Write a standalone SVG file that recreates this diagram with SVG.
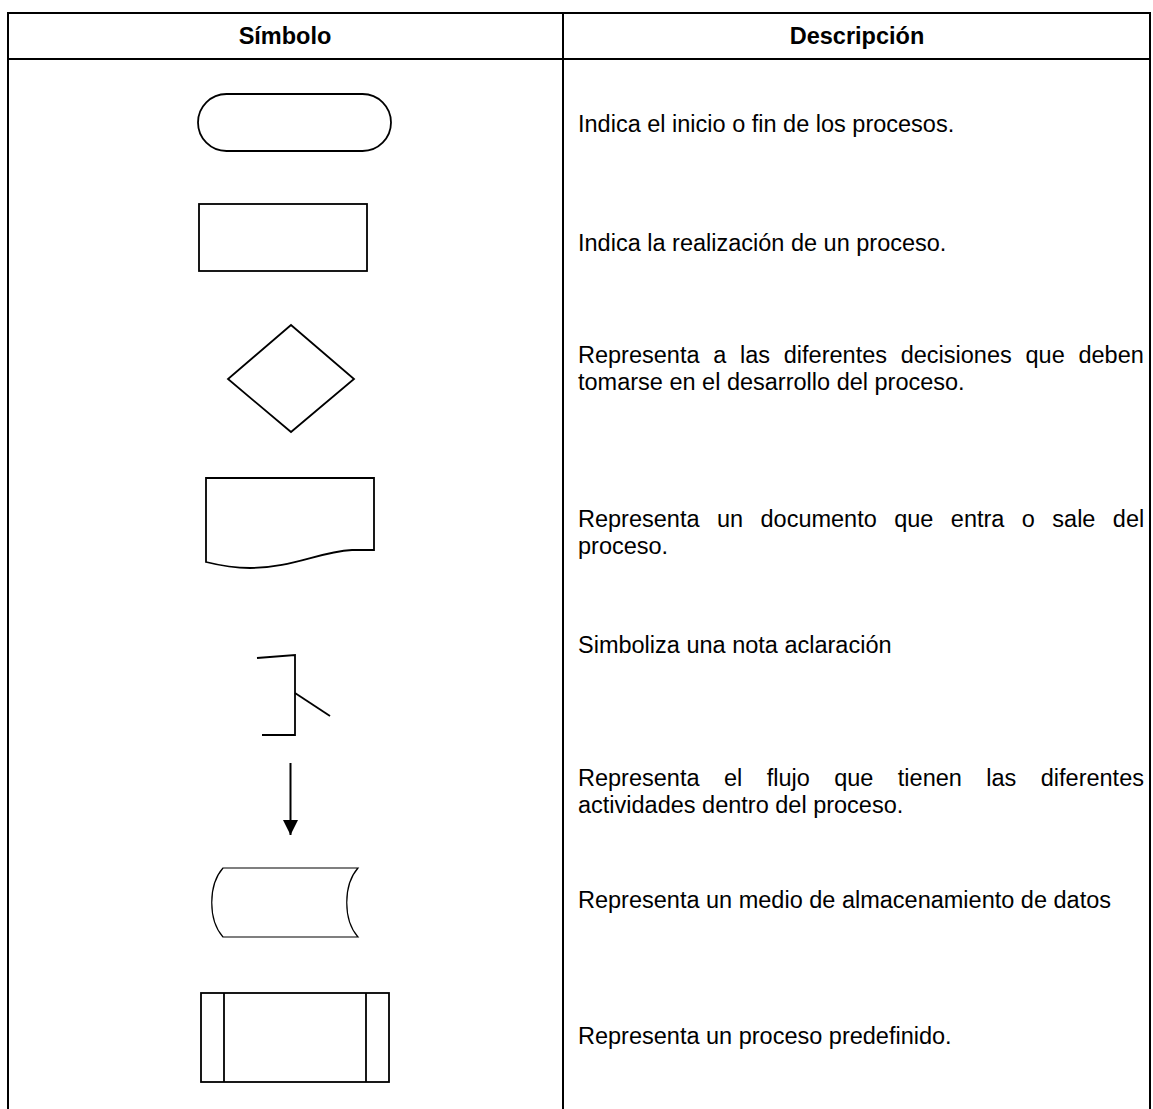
<svg xmlns="http://www.w3.org/2000/svg" width="1153" height="1109" viewBox="0 0 1153 1109">
  <style>
    .grid { stroke: #000; stroke-width: 2; fill: none; }
    .shape { stroke: #000; stroke-width: 1.8; fill: none; stroke-linejoin: miter; }
    .thin { stroke: #000; stroke-width: 1.2; fill: none; }
    .head { font-family: "Liberation Sans", Arial, sans-serif; font-size: 23.5px; font-weight: bold; fill: #000; text-anchor: middle; }
    .desc { font-family: "Liberation Sans", Arial, sans-serif; font-size: 23.5px; fill: #000; }
  </style>
  <defs>
    <marker id="arrowhead" viewBox="0 0 15 15" refX="15" refY="7.5" markerWidth="15" markerHeight="15" markerUnits="userSpaceOnUse" orient="auto">
      <path d="M0,0 L15,7.5 L0,15 Z" fill="#000"/>
    </marker>
  </defs>
  <rect width="1153" height="1109" fill="#fff"/>

  <!-- table frame -->
  <g id="table">
    <path class="grid" d="M8,1109 V13 H1150 V1109"/>
    <line class="grid" x1="8" y1="59" x2="1150" y2="59"/>
    <line class="grid" x1="563" y1="13" x2="563" y2="1109"/>
    <text class="head" x="285" y="44">Símbolo</text>
    <text class="head" x="857" y="44">Descripción</text>
  </g>

  <!-- symbols -->
  <g id="terminal">
    <rect class="shape" x="198" y="94" width="193" height="57" rx="28.5" ry="28.5"/>
  </g>
  <g id="process">
    <rect class="shape" x="199" y="204" width="168" height="67"/>
  </g>
  <g id="decision">
    <polygon class="shape" points="291,325 354,379 291,432 228,379"/>
  </g>
  <g id="document">
    <path class="shape" d="M206,562 V478 H374 V550 H352 C318,552 292,568 250,568 C232,568 218,565 206,562 Z"/>
  </g>
  <g id="note">
    <path class="shape" d="M257,658 L295,655 V735 H262"/>
    <line class="shape" x1="295" y1="693" x2="330" y2="716"/>
  </g>
  <g id="connectors">
    <line x1="290.5" y1="763" x2="290.5" y2="835" stroke="#000" stroke-width="2" marker-end="url(#arrowhead)"/>
  </g>
  <g id="storage">
    <path class="thin" d="M223,868 H358 C343,885 343,920 358,937 H223 C208,920 208,885 223,868 Z"/>
  </g>
  <g id="predefined">
    <rect class="shape" x="201" y="993" width="188" height="89"/>
    <line class="shape" x1="224" y1="993" x2="224" y2="1082"/>
    <line class="shape" x1="366" y1="993" x2="366" y2="1082"/>
  </g>

  <!-- descriptions -->
  <g id="descriptions">
    <text class="desc" x="578" y="132">Indica el inicio o fin de los procesos.</text>
    <text class="desc" x="578" y="251">Indica la realización de un proceso.</text>
    <text class="desc" x="578" y="363" word-spacing="7.2">Representa a las diferentes decisiones que deben</text>
    <text class="desc" x="578" y="390">tomarse en el desarrollo del proceso.</text>
    <text class="desc" x="578" y="527" word-spacing="10.9">Representa un documento que entra o sale del</text>
    <text class="desc" x="578" y="554">proceso.</text>
    <text class="desc" x="578" y="653">Simboliza una nota aclaración</text>
    <text class="desc" x="578" y="786" word-spacing="17.9">Representa el flujo que tienen las diferentes</text>
    <text class="desc" x="578" y="813">actividades dentro del proceso.</text>
    <text class="desc" x="578" y="908">Representa un medio de almacenamiento de datos</text>
    <text class="desc" x="578" y="1044">Representa un proceso predefinido.</text>
  </g>
</svg>
